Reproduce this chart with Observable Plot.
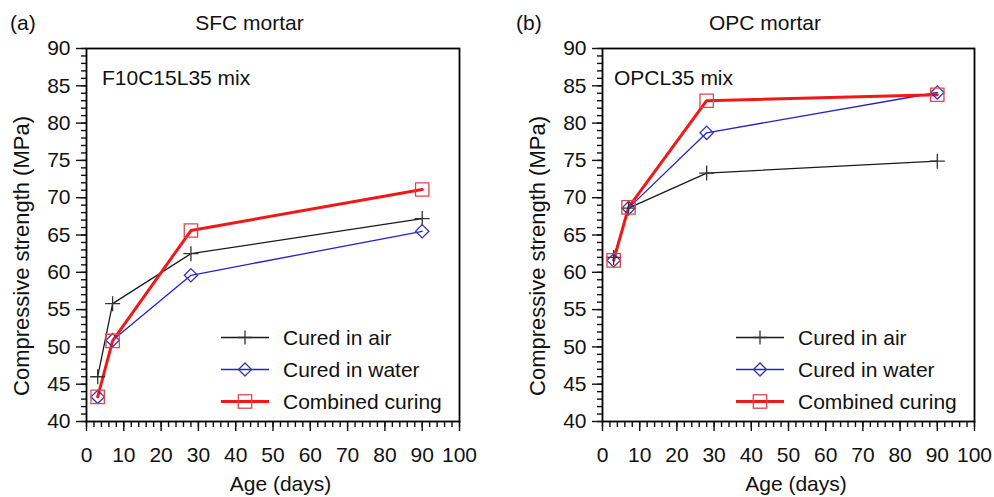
<!DOCTYPE html>
<html><head><meta charset="utf-8">
<script src="https://cdn.jsdelivr.net/npm/d3@7"></script>
<script src="https://cdn.jsdelivr.net/npm/@observablehq/plot@0.6"></script>
<style>
body{margin:0;background:#fff;}
#root{position:relative;width:994px;height:497px;overflow:hidden;font-family:"Liberation Sans",Arial,sans-serif;color:#111;background:#fff;}
.panel{position:absolute;top:0;width:497px;height:497px;}
.t{position:absolute;font-size:21px;white-space:nowrap;line-height:1;transform:translateY(-50%);z-index:2;}
.lg{position:absolute;display:flex;align-items:center;font-size:21px;line-height:1;transform:translateY(-50%);z-index:2;white-space:nowrap;}
</style></head><body><div id="root"></div>
<script>
// ---- data ----
const days = [3, 7, 28, 90];
const sfcAir      = [46.0, 55.8, 62.5, 67.2];
const sfcWater    = [43.3, 50.9, 59.6, 65.5];
const sfcCombined = [43.3, 50.8, 65.6, 71.1];
const opcAir      = [62.0, 68.6, 73.3, 74.9];
const opcWater    = [61.6, 68.6, 78.7, 84.1];
const opcCombined = [61.6, 68.7, 83.0, 83.8];
const seriesNames = ["Cured in air", "Cured in water", "Combined curing"];
const xMajor = d3.range(0, 101, 10);
const xMinor = d3.range(0, 101, 2);
const yMajor = d3.range(40, 91, 5);
const yMinor = d3.range(40, 91, 1);
const panelTags = ["(a)", "(b)"];
const panelTitles = ["SFC mortar", "OPC mortar"];
const mixLabels = ["F10C15L35 mix", "OPCL35 mix"];
const xTitle = "Age (days)";
const yTitle = "Compressive strength (MPa)";

const styles = [
  {line: "#1a1a1a", lw: 1.3, mark: "#333333", symbol: "plus", r: 4.9},
  {line: "#2222cc", lw: 1.3, mark: "#3333bb", symbol: "diamond2", r: 6.0},
  {line: "#f01818", lw: 3, mark: "#e04545", symbol: "square2", r: 8.5}
];

function rows(vals) { return days.map((d, i) => ({day: d, v: vals[i]})); }

const root = document.getElementById("root");

function panel(idx, series, ox, ml, mr) {
  const marks = [
    Plot.axisX({ticks: xMinor, tickSize: 6, fill: null, strokeWidth: 1.4, label: null}),
    Plot.axisX({ticks: xMajor, tickSize: 10, tickPadding: 16, fontSize: 21, strokeWidth: 1.4, label: null}),
    Plot.axisY({ticks: yMinor, tickSize: 5, fill: null, strokeWidth: 1.4, label: null}),
    Plot.axisY({ticks: yMajor, tickSize: 10, tickPadding: 6, fontSize: 21, strokeWidth: 1.4, label: null}),
    Plot.frame({stroke: "#000", strokeWidth: 1.8})
  ];
  series.forEach((s, i) => {
    marks.push(Plot.line(rows(s), {x: "day", y: "v", stroke: styles[i].line, strokeWidth: styles[i].lw}));
  });
  series.forEach((s, i) => {
    marks.push(Plot.dot(rows(s), {x: "day", y: "v", symbol: styles[i].symbol, r: styles[i].r, stroke: styles[i].mark, strokeWidth: 1.3, fill: "none"}));
  });
  const svg = Plot.plot({
    width: 497, height: 497,
    marginLeft: ml, marginRight: mr, marginTop: 48, marginBottom: 76,
    x: {domain: [0, 100]},
    y: {domain: [40, 90]},
    style: {fontFamily: "'Liberation Sans', Arial, sans-serif", background: "transparent", color: "#111"},
    marks
  });
  svg.classList.add("panel");
  svg.style.left = ox + "px";
  root.appendChild(svg);

  const frameL = ox + ml, frameR = ox + 497 - mr;
  const add = (cls, txt, x, y) => { const d = document.createElement("div"); d.className = cls; d.textContent = txt; d.style.left = x + "px"; d.style.top = y + "px"; root.appendChild(d); return d; };
  add("t", panelTags[idx], ox + (idx ? 19 : 10), 22);
  const tt = add("t", panelTitles[idx], (frameL + frameR) / 2 - 23, 22);
  tt.style.transform = "translate(-50%,-50%)";
  add("t", mixLabels[idx], frameL + (idx ? 12 : 16), 77);
  const xt = add("t", xTitle, (frameL + frameR) / 2 + 8, 483);
  xt.style.transform = "translate(-50%,-50%)";
  const yt = add("t", yTitle, frameL - 64, 256);
  yt.style.fontSize = "22px";
  yt.style.transform = "translate(-50%,-50%) rotate(-90deg)";

  const rowsY = [337, 369, 401];
  seriesNames.forEach((name, i) => {
    const d = document.createElement("div");
    d.className = "lg";
    d.style.left = (frameR - 238) + "px";
    d.style.top = rowsY[i] + "px";
    const st = styles[i];
    let mk = "";
    if (i === 0) mk = `<path d="M17,24H31M24,17V31" stroke="${st.mark}" stroke-width="1.3" fill="none"/>`;
    if (i === 1) mk = `<path d="M24,17.5L30.5,24L24,30.5L17.5,24Z" stroke="${st.mark}" stroke-width="1.3" fill="none"/>`;
    if (i === 2) mk = `<rect x="17.3" y="17.3" width="13.4" height="13.4" stroke="${st.mark}" stroke-width="1.3" fill="none"/>`;
    d.innerHTML = `<svg width="48" height="48" viewBox="0 0 48 48" style="margin:-14px 14px -14px 0"><line x1="0" y1="24" x2="48" y2="24" stroke="${st.line}" stroke-width="${st.lw}"/>${mk}</svg><span>${name}</span>`;
    root.appendChild(d);
  });
}

panel(0, [sfcAir, sfcWater, sfcCombined], 0, 86, 38);
panel(1, [opcAir, opcWater, opcCombined], 497, 105, 20);
</script></body></html>
